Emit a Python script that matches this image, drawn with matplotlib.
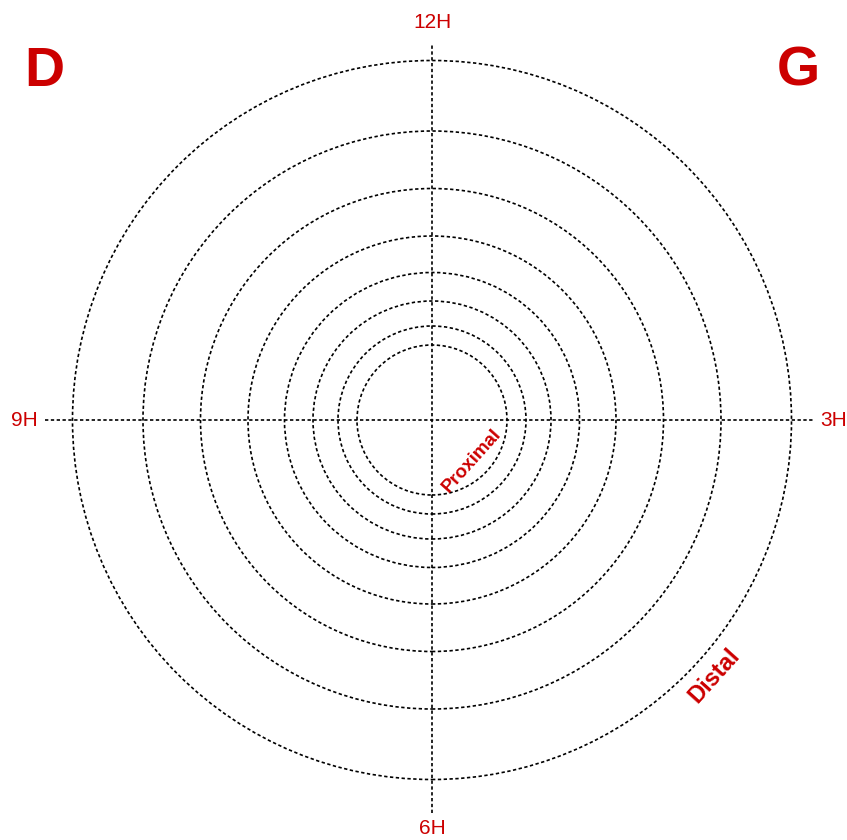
import numpy as np
import matplotlib.pyplot as plt
from matplotlib.patches import Circle

plt.rcParams['font.family'] = ['Liberation Sans', 'DejaVu Sans']

rouge = '#cc0000'

# rayons des cercles (px), du plus grand au plus petit
rayons = [359.5, 289, 231.5, 184, 147.5, 119, 94, 75]
heures = ['12H', '3H', '6H', '9H']
cx, cy = 432, 420

fig = plt.figure(figsize=(8.47, 8.40), dpi=100)
ax = fig.add_axes([0, 0, 1, 1])
ax.set_xlim(0, 847)
ax.set_ylim(0, 840)
ax.set_aspect('equal')
ax.axis('off')

style = dict(color='black', lw=1.2, linestyle=(0, (2, 1.5)))

for r in rayons:
    ax.add_patch(Circle((cx, cy), r, fill=False, **style))

# axes en croix
ax.plot([45, 815], [cy, cy], **style)
ax.plot([cx, cx], [cy - 393, cy + 377], **style)

# heures
pos = {'12H': (cx, 818), '3H': (834, cy), '6H': (cx, 12), '9H': (24, cy)}
for h in heures:
    x, y = pos[h]
    ax.text(x, y, h, color=rouge, fontsize=15, ha='center', va='center')

ax.text(44, 768, 'D', color=rouge, fontsize=40, fontweight='bold', ha='center', va='center')
ax.text(798, 768, 'G', color=rouge, fontsize=40, fontweight='bold', ha='center', va='center')

ax.text(472, 379, 'Proximal', color=rouge, fontsize=13.5, fontweight='bold',
        rotation=48, ha='center', va='center', rotation_mode='anchor')
ax.text(714, 164, 'Distal', color=rouge, fontsize=17, fontweight='bold',
        rotation=48, ha='center', va='center', rotation_mode='anchor')

fig.savefig('out.png', dpi=100)
